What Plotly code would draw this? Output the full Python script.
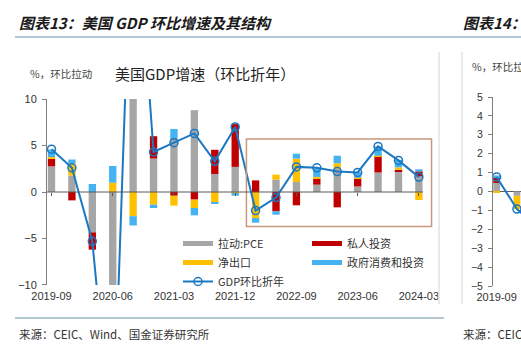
import plotly.graph_objects as go

# ---- data: US real GDP, q/q annualised (%), and contributions (pp) ----
quarters = ["2019-09", "2019-12", "2020-03", "2020-06", "2020-09", "2020-12",
            "2021-03", "2021-06", "2021-09", "2021-12", "2022-03", "2022-06",
            "2022-09", "2022-12", "2023-03", "2023-06", "2023-09", "2023-12",
            "2024-03"]
pce = [2.76, 1.76, -4.34, -24.0, 25.0, 3.6, 5.7, 8.8, 1.94, 2.7, 0.0, 1.33,
       1.08, 0.79, 2.5, 0.6, 2.1, 2.2, 1.68]
private_inv = [0.8, -0.9, -1.86, -6.8, 13.4, 2.4, -0.4, -0.82, 2.6, 4.6, 1.25,
               -2.08, -1.43, 0.65, -1.65, 0.9, 1.75, 0.2, 0.54]
net_exports = [0.2, 1.3, 0.0, 1.0, -2.6, -1.36, -1.07, -0.9, -1.08, -0.2, -2.8,
               0.54, 2.5, 0.18, 0.6, 0.04, 0.05, 0.25, -0.86]
government = [0.8, 0.43, 0.86, 1.8, -1.0, -0.36, 1.08, -0.79, -0.2, -0.2, -0.5,
              -0.36, 0.54, 0.95, 0.8, 0.6, 1.0, 0.8, 0.22]
gdp = [4.6, 2.6, -5.3, -28.0, 34.8, 4.3, 5.3, 6.3, 3.3, 7.0, -2.0, -0.6, 2.7,
       2.6, 2.2, 2.1, 4.9, 3.4, 1.6]
highlight_from = "2022-03"

# second panel (q/q contributions, not annualised)
r_quarters = ["2019-09", "2019-12", "2020-03"]
r_pce = [0.45, -0.23, None]
r_private = [0.3, 0.0, None]
r_net = [-0.08, -0.7, None]
r_gov = [0.1, 0.0, None]
r_gdp = [0.77, -0.93, -1.85]

series_names = ["拉动:PCE", "私人投资", "净出口", "政府消费和投资"]
series_colors = ["#A6A6A6", "#C00000", "#FFC000", "#45B2F2"]
LINE_BLUE = "#1B78C2"

# ---- page geometry ----
W, H = 521, 345
ML, MR, MT, MB = 47, 0, 97, 59
AW, AH = W - ML - MR, H - MT - MB


def px(x):
    return (x - ML) / AW


def py(y):
    return (H - MB - y) / AH


CJK = "Noto Sans CJK SC, sans-serif"
NUM = "Liberation Sans, Arial, sans-serif"
DARK = "#333333"

x_idx = list(range(len(quarters)))
r_idx = list(range(len(r_quarters)))
x_min, x_max = -0.22, 18.69
left_dom = [0, round(px(433), 4)]
left_ydom = [round(py(285), 4), round(py(99), 4)]

fig = go.Figure()

# stacked contribution bars, main panel
for vals, name, col in zip([pce, private_inv, net_exports, government],
                           series_names, series_colors):
    fig.add_trace(go.Bar(x=x_idx, y=vals, name=name, marker_color=col,
                         marker_line_width=0, width=0.36, showlegend=False,
                         xaxis="x", yaxis="y"))

fig.add_trace(go.Scatter(
    x=x_idx, y=gdp, name="GDP环比折年", mode="lines+markers",
    line=dict(color=LINE_BLUE, width=2, simplify=False),
    marker=dict(symbol="circle-open", size=8, color=LINE_BLUE,
                line=dict(width=1.5, color=LINE_BLUE)),
    xaxis="x", yaxis="y", legend="legend", legendrank=10))

# legend swatches drawn as thick lines
legend_of = ["legend", "legend2", "legend", "legend2"]
for i in [0, 2, 1, 3]:
    fig.add_trace(go.Scatter(x=[None], y=[None], mode="lines",
                             name=series_names[i],
                             line=dict(color=series_colors[i], width=5),
                             legend=legend_of[i], xaxis="x", yaxis="y",
                             legendrank=i))

# helper trace carrying the tick axis at the zero line
fig.add_trace(go.Scatter(x=x_idx, y=gdp, mode="lines", opacity=0,
                         showlegend=False, hoverinfo="skip",
                         xaxis="x2", yaxis="y"))

# second panel
for vals, col in zip([r_pce, r_private, r_net, r_gov], series_colors):
    fig.add_trace(go.Bar(x=r_idx, y=vals, marker_color=col,
                         marker_line_width=0, width=0.33, showlegend=False,
                         xaxis="x3", yaxis="y3"))
fig.add_trace(go.Scatter(
    x=r_idx, y=r_gdp, mode="lines+markers", showlegend=False,
    line=dict(color=LINE_BLUE, width=2),
    marker=dict(symbol="circle-open", size=8, color=LINE_BLUE,
                line=dict(width=1.5, color=LINE_BLUE)),
    xaxis="x3", yaxis="y3"))

tickfont = dict(family=NUM, size=11, color=DARK)
zero_pos = round(left_ydom[0] + (left_ydom[1] - left_ydom[0]) * 0.5, 4)

fig.update_layout(
    width=W, height=H, barmode="relative",
    margin=dict(l=ML, r=MR, t=MT, b=MB, pad=0, autoexpand=False),
    paper_bgcolor="white", plot_bgcolor="white",
    xaxis=dict(domain=left_dom, range=[x_min, x_max], anchor="y",
               tickvals=x_idx[::3], ticktext=quarters[::3],
               showgrid=False, zeroline=False, showline=False, ticks="",
               ticklabelstandoff=3, tickfont=tickfont),
    xaxis2=dict(overlaying="x", range=[x_min, x_max], anchor="free",
                position=zero_pos, tickvals=x_idx[::3], ticks="outside",
                ticklen=3, tickcolor="#595959", showticklabels=False,
                showgrid=False, zeroline=False, showline=False),
    yaxis=dict(domain=left_ydom, range=[-10, 10], anchor="x",
               tickvals=[-10, -5, 0, 5, 10], showgrid=False, zeroline=False,
               showline=True, linecolor="#7F7F7F", linewidth=1,
               ticks="outside", ticklen=4, tickcolor="#7F7F7F",
               ticklabelstandoff=3, tickfont=tickfont),
    xaxis3=dict(domain=[round(px(493), 4), 1], range=[-0.18, 1.2],
                anchor="y3", tickvals=[0], ticktext=r_quarters[:1],
                showgrid=False, zeroline=False, showline=False, ticks="",
                ticklabelstandoff=3, tickfont=tickfont),
    yaxis3=dict(domain=[0, 1], range=[-5, 5], anchor="x3", dtick=1,
                showgrid=False, zeroline=True, zerolinecolor="#595959",
                zerolinewidth=1, showline=True, linecolor="#7F7F7F",
                ticks="outside", ticklen=4, tickcolor="#7F7F7F",
                ticklabelstandoff=3,
                tickfont=dict(family=NUM, size=10.5, color=DARK)),
    legend=dict(x=px(178), y=py(229), xanchor="left", yanchor="top",
                bgcolor="rgba(0,0,0,0)", borderwidth=0,
                font=dict(family=CJK, size=11, color=DARK),
                traceorder="normal", itemwidth=30),
    legend2=dict(x=px(307), y=py(229), xanchor="left", yanchor="top",
                 bgcolor="rgba(0,0,0,0)", borderwidth=0,
                 font=dict(family=CJK, size=11, color=DARK),
                 traceorder="normal", itemwidth=30),
    showlegend=True,
)

# highlighted recent period
hl = quarters.index(highlight_from)
fig.add_shape(type="rect", xref="x", yref="y", x0=hl - 0.45,
              x1=len(quarters) - 1 + 0.62, y0=-3.7, y1=5.7,
              line=dict(color="#C9977C", width=1.5), fillcolor="rgba(0,0,0,0)")
# zero line of the main panel
fig.add_shape(type="line", xref="x", yref="y", x0=x_min,
              x1=len(quarters) - 1 + 0.2, y0=0, y1=0,
              line=dict(color="#595959", width=1))

# page rules and panel frames
rule = "#9DB3C4"
fig.add_shape(type="line", xref="paper", yref="paper", x0=px(15), x1=px(521),
              y0=py(37), y1=py(37), line=dict(color=rule, width=1.5))
fig.add_shape(type="line", xref="paper", yref="paper", x0=px(15), x1=px(444),
              y0=py(318), y1=py(318), line=dict(color=rule, width=1.5))
for xv in (439, 462):
    fig.add_shape(type="line", xref="paper", yref="paper", x0=px(xv),
                  x1=px(xv), y0=py(52), y1=py(304),
                  line=dict(color="#E3E3E3", width=1.5))


def note(text, x, y, size, color=DARK, family=CJK):
    fig.add_annotation(text=text, xref="paper", yref="paper", x=px(x),
                       y=py(y), xanchor="left", yanchor="middle",
                       showarrow=False, font=dict(family=family, size=size,
                                                  color=color))


note("<b><i>图表13：美国 GDP 环比增速及其结构</i></b>", 17, 23, 15, "#1A1A1A")
note("<b><i>图表14：</i></b>", 461, 23, 15, "#1A1A1A")
note("%，环比拉动", 28, 73, 10.5, "#444444")
note("美国GDP增速（环比折年）", 113, 73, 15, "#222222")
note("%，环比拉动", 470, 66, 10.5, "#444444")
note("来源：CEIC、Wind、国金证券研究所", 17, 334, 11.5, "#333333")
note("来源：CEIC、Wind、国金证券研究所", 461, 334, 11.5, "#333333")

fig.write_html("out.html")
